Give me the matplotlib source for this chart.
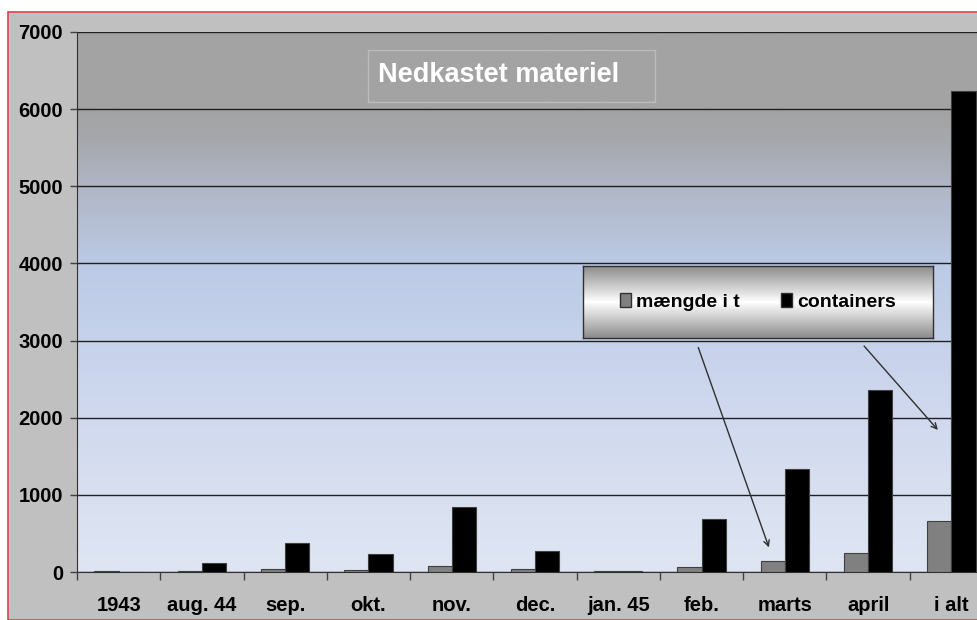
import numpy as np
import matplotlib.pyplot as plt
from matplotlib.patches import Rectangle, Patch
from matplotlib.colors import LinearSegmentedColormap

categories = ["1943", "aug. 44", "sep.", "okt.", "nov.", "dec.", "jan. 45", "feb.", "marts", "april", "i alt"]
maengde = [15, 15, 35, 20, 78, 35, 10, 61, 139, 250, 657]
containers = [0, 113, 380, 237, 847, 268, 10, 691, 1335, 2360, 6239]

FONT = ["Liberation Sans Narrow", "Liberation Sans", "DejaVu Sans"]
plt.rcParams["font.family"] = FONT
plt.rcParams["font.weight"] = "bold"

W, H = 978, 620
fig = plt.figure(figsize=(W / 100, H / 100), dpi=100)
fig.patch.set_facecolor("white")

# grey chart area with red outline (cropped at right/bottom)
fig.patches.append(Rectangle((8 / W, 0), 1, 1 - 12 / H, transform=fig.transFigure,
                             facecolor="#c0c0c0", edgecolor="#e04050", linewidth=1.2, zorder=-5))

ax = fig.add_axes([77 / W, 1 - 572 / H, (993 - 77) / W, 540 / H])
ax.set_facecolor("none")

# plot area gradient: grey at top to light blue at bottom
bg = LinearSegmentedColormap.from_list("bg", [(0.0, "#dfe5f3"), (0.143, "#d8e0f0"), (0.286, "#d0d9ee"),
                                              (0.43, "#c6d2eb"), (0.57, "#bccae5"), (0.71, "#b0b7c6"),
                                              (0.80, "#a6a8ad"), (0.857, "#a3a3a3"), (1.0, "#a3a3a3")])
grad = np.linspace(0, 1, 256).reshape(-1, 1)
ax.imshow(grad, cmap=bg, origin="lower", aspect="auto",
          extent=[-0.5, len(categories) - 0.5, 0, 7000], zorder=0)

x = np.arange(len(categories))
bw = 0.29
b1 = ax.bar(x - bw / 2, maengde, bw, color="#808080", edgecolor="#404040", linewidth=0.8, zorder=3)
b2 = ax.bar(x + bw / 2, containers, bw, color="black", edgecolor="#404040", linewidth=0.8, zorder=3)

ax.set_xlim(-0.5, len(categories) - 0.5)
ax.set_ylim(0, 7000)
ax.set_yticks(range(0, 7001, 1000))
ax.yaxis.grid(True, color="#202020", linewidth=1.0, zorder=1)
ax.set_axisbelow(False)

ax.set_xticks(x)
ax.set_xticklabels(categories)
ax.set_xticks(np.arange(-0.5, len(categories)), minor=True)
ax.tick_params(axis="x", which="major", length=0, pad=17, labelsize=14.5)
ax.tick_params(axis="x", which="minor", length=6, width=1, color="#404040")
ax.tick_params(axis="y", length=5, width=1, color="#404040", labelsize=14.5, pad=5)
for lab in ax.get_xticklabels() + ax.get_yticklabels():
    lab.set_fontweight("bold")

for s in ["top", "right"]:
    ax.spines[s].set_visible(False)
ax.spines["left"].set_color("#303030")
ax.spines["bottom"].set_color("#303030")

# title box
fig.patches.append(Rectangle((368 / W, 1 - 102 / H), 287 / W, 52 / H, transform=fig.transFigure,
                             facecolor="none", edgecolor="#bcbcbc", linewidth=1, zorder=5))
fig.text(378 / W, 1 - 75 / H, "Nedkastet materiel", color="white", fontsize=19.5,
         fontweight="bold", ha="left", va="center", zorder=6)

# arrows
ax.annotate("", xy=(7.82, 285), xytext=(6.95, 2943),
            arrowprops=dict(arrowstyle="->", color="#303030", lw=1), zorder=6)
ax.annotate("", xy=(9.86, 1815), xytext=(8.93, 2956),
            arrowprops=dict(arrowstyle="->", color="#303030", lw=1), zorder=6)

# legend box with grey-white-grey gradient
lax = fig.add_axes([583 / W, 1 - 338 / H, 350 / W, 72 / H])
lg = LinearSegmentedColormap.from_list("lg", ["#8c8c8c", "#ffffff", "#8c8c8c"])
lax.imshow(grad, cmap=lg, origin="lower", aspect="auto", extent=[0, 1, 0, 1])
lax.set_xticks([])
lax.set_yticks([])
for s in lax.spines.values():
    s.set_color("#303030")
    s.set_linewidth(1)
handles = [Patch(facecolor="#808080", edgecolor="#303030", label="mængde i t"),
           Patch(facecolor="black", edgecolor="#303030", label="containers")]
lax.legend(handles=handles, loc="center", ncol=2, frameon=False, handlelength=0.55,
           handleheight=0.7, handletextpad=0.3, columnspacing=2.1,
           prop=dict(family=FONT, weight="bold", size=14))

fig.savefig("out.png", dpi=100)
